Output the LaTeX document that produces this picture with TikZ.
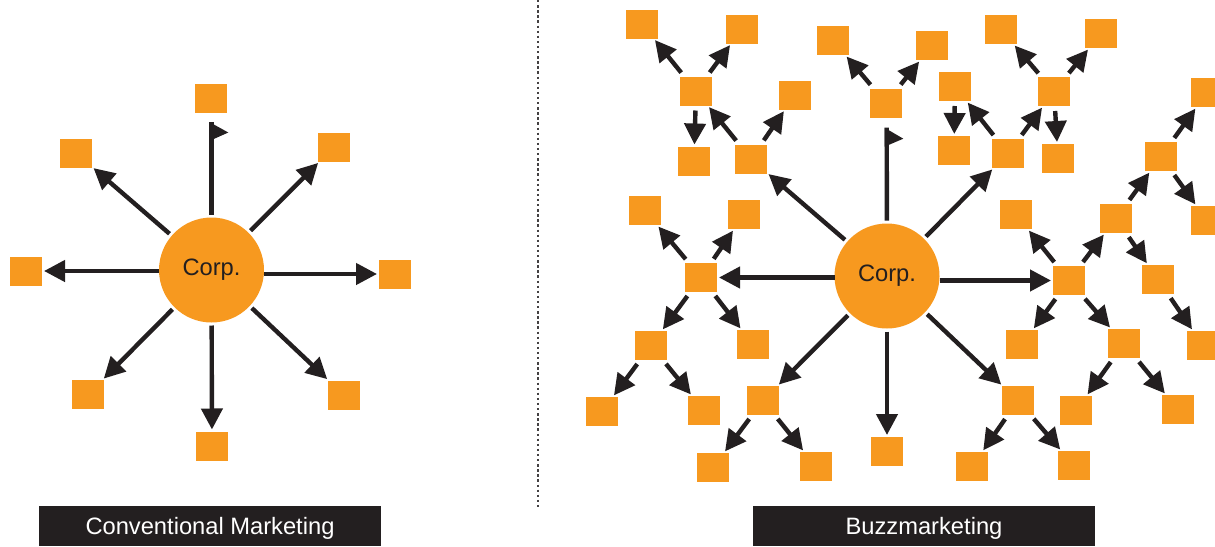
\documentclass[tikz,border=0pt]{standalone}
\usepackage{fontspec}
\setmainfont{Liberation Sans}
\usetikzlibrary{arrows.meta}
\definecolor{buzzor}{HTML}{F7991F}
\definecolor{buzzdk}{HTML}{231F20}
\begin{document}
\begin{tikzpicture}[x=1pt,y=-1pt,
  sq/.style={fill=buzzor, minimum width=32pt, minimum height=29pt, inner sep=0pt, outer sep=0pt},
  corp/.style={circle, fill=buzzor, minimum size=105pt, inner sep=0pt, outer sep=0pt, text=buzzdk, font=\fontsize{23.7pt}{28pt}\selectfont},
  arr/.style={-{Triangle[length=21pt,width=21pt]}, line width=4.4pt, draw=buzzdk, shorten <=5pt, shorten >=2pt},
  carr/.style={arr, shorten <=3pt},
  flagline/.style={line width=4.4pt, draw=buzzdk, shorten <=3pt},
  label/.style={fill=buzzdk, text=white, minimum width=342pt, minimum height=40pt, inner sep=0pt, text height=17pt, text depth=0pt, font=\fontsize{23.7pt}{28pt}\selectfont}
]
\useasboundingbox (0,0) rectangle (1215,546);
\clip (0,0) rectangle (1215,546);

% divider
\draw[buzzdk!85, line width=2.2pt, dash pattern=on 2.4pt off 2.7pt] (538,0) coordinate (dtop) -- (538,508) coordinate (dbot);

% ---------- Conventional ----------
\node[corp] (L) at (211.5,270) {Corp.};
\node[sq] (l1) at (211,98.5) {};
\node[sq] (l2) at (76,153) {};
\node[sq] (l3) at (334,147) {};
\node[sq] (l4) at (26,271) {};
\node[sq] (l5) at (395,274) {};
\node[sq] (l6) at (88,394.5) {};
\node[sq] (l7) at (344,395) {};
\node[sq] (l8) at (212,446) {};
\coordinate (lf) at (211.5,122);
\draw[flagline] (L) -- (lf);
\fill[buzzdk] ([xshift=-2.2pt]lf) -- ++(19,10.5) -- ++(-19,8.5) -- cycle;
\foreach \t in {l2,l3,l6,l7,l8} \draw[carr] (L) -- (\t);
\draw[carr, shorten <=0pt] (L.west |- l4) -- (l4);
\draw[carr, shorten <=0pt] (L.east |- l5) -- (l5);

% ---------- Buzz ----------
\node[corp] (C) at (887,276) {Corp.};
\foreach \n/\x/\y in {
 q1/642/24, q2/742/29, q3/696/91, q4/795/95, q5/694/161, q6/751/159,
 q7/833/40.5, q8/932/45.5, q9/886/103, q10/1001/29.5, q11/1101/33.5, q12/1054/91.5,
 q13/955/86.5, q14/954/150.5, q15/1008/153.5, q16/1058/158.5, q17/1207/92.5, q18/1161/156.5,
 q19/1016/214.5, q20/1116/218.5, q21/1207/220.5, q22/1069/280.5, q23/1158/279.5, q24/1022/344.5,
 q25/1124/343.5, q26/1203/345.5, q27/1076/410.5, q28/1178/409.5, q29/1018/400.5, q30/972/466.5,
 q31/1074/465.5, q32/887/451.5, q33/763/400.5, q34/713/467.5, q35/816/466.5, q36/645/210.5,
 q37/744/214.5, q38/701/277.5, q39/651/345.5, q40/753/344.5, q41/602/411.5, q42/704/410.5}
 \node[sq] (\n) at (\x,\y) {};

\coordinate (rf) at (886.7,127.7);
\draw[flagline] (C) -- (rf);
\fill[buzzdk] ([xshift=-2.2pt]rf) -- ++(18.8,11) -- ++(-18.8,8) -- cycle;

\draw[carr, shorten <=0pt] (C.west |- q38) -- (q38);
\draw[carr, shorten <=0pt] (C.east |- q22) -- (q22);
\foreach \t in {q6,q15,q33,q29,q32} \draw[carr] (C) -- (\t);
\foreach \s/\t in {q38/q36, q38/q37, q38/q39, q38/q40, q39/q41, q39/q42,
  q33/q34, q33/q35, q29/q30, q29/q31, q6/q3, q6/q4, q3/q1, q3/q2, q3/q5,
  q9/q7, q9/q8, q15/q13, q15/q12, q13/q14, q12/q10, q12/q11, q12/q16,
  q22/q19, q22/q20, q22/q24, q22/q25, q20/q18, q20/q23, q18/q17, q18/q21,
  q23/q26, q25/q27, q25/q28}
  \draw[arr] (\s) -- (\t);

% labels
\node[label] (lab1) at (210,526) {Conventional Marketing};
\node[label] (lab2) at (924,526) {Buzzmarketing};
\end{tikzpicture}
\end{document}
